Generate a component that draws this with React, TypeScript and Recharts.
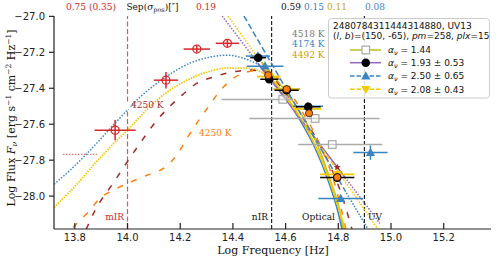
import React from 'react';
import { ComposedChart, Line, Scatter, XAxis, YAxis, ErrorBar, ReferenceLine } from 'recharts';

const xTicks = [13.8, 14.0, 14.2, 14.4, 14.6, 14.8, 15.0, 15.2];
const yTicks = [-28.0, -27.8, -27.6, -27.4, -27.2, -27.0];
const xDomain = [13.721, 15.3795];
const yDomain = [-28.183, -26.998];

// observed photometry
const redPoints = [
  { x: 13.953, y: -27.633, ex: 0.078, ey: 0.056 },
  { x: 14.146, y: -27.355, ex: 0.046, ey: 0.046 },
  { x: 14.263, y: -27.182, ex: 0.05, ey: 0.02 },
  { x: 14.379, y: -27.15, ex: 0.044, ey: 0.02 },
];
const grayPoints = [
  { x: 14.589, y: -27.462, ex: [0.232, 0.04] },
  { x: 14.712, y: -27.568, ex: [0.25, 0.245] },
  { x: 14.777, y: -27.713, ex: [0.129, 0.19] },
];
const bluePoints = [
  { x: 14.495, y: -27.221, ex: 0.046, ey: 0.01 },
  { x: 14.522, y: -27.277, ex: 0.07, ey: 0.01 },
  { x: 14.605, y: -27.405, ex: 0.05, ey: 0.01 },
  { x: 14.685, y: -27.5, ex: 0.057, ey: 0.01 },
  { x: 14.922, y: -27.758, ex: 0.065, ey: 0.04 },
  { x: 14.809, y: -28.014, ex: 0.085, ey: 0.02 },
];
const goldPoints = [
  { x: 14.536, y: -27.335, ex: 0.045 },
  { x: 14.604, y: -27.405, ex: 0.05 },
  { x: 14.686, y: -27.515, ex: 0.05 },
  { x: 14.796, y: -27.879, ex: 0.065 },
];
const blackPoints = [
  { x: 14.496, y: -27.23, ex: 0.03 },
  { x: 14.538, y: -27.35, ex: 0.034 },
  { x: 14.604, y: -27.411, ex: 0.046 },
  { x: 14.686, y: -27.503, ex: 0.047 },
  { x: 14.796, y: -27.897, ex: 0.065 },
];
const orangePoints = [
  { x: 14.534, y: -27.327 },
  { x: 14.604, y: -27.405 },
  { x: 14.689, y: -27.539 },
  { x: 14.796, y: -27.895 },
];
const brownPoints = [
  { x: 14.689, y: -27.53 },
  { x: 14.796, y: -27.838 },
];
const pinkLimit = [
  [13.755, -27.768],
  [13.884, -27.768],
];

// model curves [logNu, logF]
const blueBBDotted = [
  [13.721, -27.934], [13.782, -27.856], [13.858, -27.745], [13.953, -27.594], [14.047, -27.45],
  [14.15, -27.333], [14.237, -27.26], [14.313, -27.227], [14.378, -27.216], [14.438, -27.232], [14.495, -27.266],
];
const blueBBSolid = [
  [14.495, -27.266], [14.541, -27.344], [14.598, -27.45], [14.655, -27.578], [14.712, -27.734],
  [14.761, -27.912], [14.799, -28.09], [14.814, -28.185],
];
const goldBBDotted = [
  [13.721, -28.062], [13.801, -27.945], [13.877, -27.817], [13.934, -27.728], [14.01, -27.617],
  [14.078, -27.511], [14.15, -27.422], [14.226, -27.355], [14.302, -27.31], [14.378, -27.288],
  [14.454, -27.288], [14.51, -27.31],
];
const goldBBSolid = [
  [14.51, -27.31], [14.56, -27.372], [14.617, -27.477], [14.674, -27.611], [14.731, -27.778],
  [14.78, -27.968], [14.825, -28.185],
];
const oliveBB = [
  [14.51, -27.255], [14.579, -27.377], [14.655, -27.533], [14.723, -27.723], [14.776, -27.94],
  [14.807, -28.09], [14.818, -28.185],
];
const brownBB = [
  [13.843, -28.185], [13.877, -28.079], [13.945, -27.929], [14.029, -27.745], [14.112, -27.578],
  [14.207, -27.438], [14.264, -27.372], [14.325, -27.338], [14.397, -27.31], [14.465, -27.299],
  [14.522, -27.31], [14.598, -27.422], [14.674, -27.578], [14.75, -27.773], [14.807, -27.968], [14.852, -28.185],
];
const orangeBB = [
  [13.793, -28.174], [13.85, -28.09], [13.896, -28.012], [13.953, -27.962], [14.01, -27.923],
  [14.074, -27.884], [14.142, -27.84], [14.184, -27.778], [14.226, -27.678], [14.268, -27.583],
  [14.306, -27.505], [14.347, -27.422], [14.397, -27.349], [14.454, -27.31], [14.51, -27.299],
  [14.579, -27.355], [14.655, -27.511], [14.731, -27.717], [14.788, -27.94], [14.829, -28.185],
];
const purpleUp = [[14.359, -26.998], [14.495, -27.26]];
const purpleMid = [[14.495, -27.26], [14.825, -27.895]];
const purpleLow = [[14.825, -27.895], [14.958, -28.152]];
const goldUp = [[14.381, -26.998], [14.51, -27.26]];
const goldMid = [[14.51, -27.26], [14.807, -27.879]];
const goldLow = [[14.807, -27.879], [14.951, -28.185]];
const blueMid = [[14.442, -26.998], [14.825, -27.968]];
const blueLow = [[14.825, -27.968], [14.913, -28.185]];

const bandLines = [14.547, 14.899];

const C = {
  red: '#d62728', blue: '#3b84c4', gold: '#f5c800', goldText: '#c9a200', olive: '#bcbd22',
  purple: '#9467bd', brown: '#a52a2a', orange: '#ff7f0e', gray: '#aaaaaa', axis: '#222222',
};

const toPts = (a: number[][]) => a.map(([x, y]) => ({ x, y }));
const fmt = (v: number) => (v < 0 ? '\u2212' : '') + Math.abs(v).toFixed(1);

const W = 498;
const H = 261;

function curve(key: string, data: number[][], color: string, dash?: string, width = 1.5, type: any = 'linear') {
  return (
    <Line
      key={key}
      data={toPts(data)}
      dataKey="y"
      type={type}
      stroke={color}
      strokeWidth={width}
      strokeDasharray={dash}
      dot={false}
      activeDot={false}
      isAnimationActive={false}
      legendType="none"
    />
  );
}

const redShape = (p: any) => (
  <circle cx={p.cx} cy={p.cy} r={4} fill="none" stroke={C.red} strokeWidth={1.3} />
);
const blackShape = (p: any) => <circle cx={p.cx} cy={p.cy} r={4.3} fill="#000" />;
const orangeShape = (p: any) => (
  <circle cx={p.cx} cy={p.cy} r={3.6} fill={C.orange} stroke="#000" strokeWidth={0.7} />
);
const grayShape = (p: any) => (
  <rect x={p.cx - 3.8} y={p.cy - 3.8} width={7.6} height={7.6} fill="#fff" fillOpacity={0.4} stroke={C.gray} strokeWidth={1.2} />
);
const blueShape = (p: any) => (
  <polygon points={`${p.cx},${p.cy - 4.8} ${p.cx - 4.6},${p.cy + 3.4} ${p.cx + 4.6},${p.cy + 3.4}`} fill={C.blue} />
);
const goldShape = (p: any) => (
  <polygon points={`${p.cx},${p.cy + 4.8} ${p.cx - 4.6},${p.cy - 3.4} ${p.cx + 4.6},${p.cy - 3.4}`} fill={C.gold} />
);
const brownShape = (p: any) => (
  <polygon
    points={`${p.cx},${p.cy - 3.5} ${p.cx + 1},${p.cy - 1} ${p.cx + 3.5},${p.cy - 1} ${p.cx + 1.5},${p.cy + 0.8} ${p.cx + 2.3},${p.cy + 3.3} ${p.cx},${p.cy + 1.8} ${p.cx - 2.3},${p.cy + 3.3} ${p.cx - 1.5},${p.cy + 0.8} ${p.cx - 3.5},${p.cy - 1} ${p.cx - 1},${p.cy - 1}`}
    fill={C.brown}
  />
);

const serif = 'DejaVu Serif';
const sans = 'DejaVu Sans';

export default function App() {
  const legendRows = [
    { y: 50, color: C.olive, dash: undefined, marker: 'sq', text: '1.44' },
    { y: 62.7, color: C.purple, dash: undefined, marker: 'circ', text: '1.93 \u00b1 0.53' },
    { y: 76, color: C.blue, dash: '4.5 2', marker: 'up', text: '2.50 \u00b1 0.65' },
    { y: 89.3, color: C.gold, dash: '4.5 2', marker: 'down', text: '2.08 \u00b1 0.43' },
  ];
  return (
    <div style={{ position: 'absolute', left: 0, top: 0, width: W, height: H, background: '#fff' }}>
      <ComposedChart width={W} height={H} margin={{ top: 16, right: 7, bottom: 0, left: 0 }}>
        <XAxis
          dataKey="x"
          type="number"
          domain={xDomain}
          allowDataOverflow
          ticks={xTicks}
          interval={0}
          tickFormatter={fmt}
          tickSize={-6}
          tickMargin={11}
          height={32}
          stroke={C.axis}
          strokeWidth={1.2}
          tick={{ fill: C.axis, fontSize: 10, fontFamily: sans }}
        />
        <XAxis
          xAxisId="top"
          orientation="top"
          dataKey="x"
          type="number"
          domain={xDomain}
          allowDataOverflow
          ticks={xTicks}
          interval={0}
          tick={false}
          tickSize={-6}
          height={0}
          stroke={C.axis}
          strokeWidth={1.2}
        />
        <YAxis
          dataKey="y"
          type="number"
          domain={yDomain}
          allowDataOverflow
          ticks={yTicks}
          interval={0}
          tickFormatter={fmt}
          tickSize={5}
          tickMargin={4}
          width={54}
          stroke={C.axis}
          strokeWidth={1.2}
          tick={{ fill: C.axis, fontSize: 10, fontFamily: sans }}
        />
        <YAxis
          yAxisId="right"
          orientation="right"
          dataKey="y"
          type="number"
          domain={yDomain}
          allowDataOverflow
          ticks={yTicks}
          interval={0}
          tick={false}
          tickSize={-6}
          width={0}
          stroke={C.axis}
          strokeWidth={1.2}
        />
        <Line
          xAxisId="top"
          yAxisId="right"
          data={[{ x: 14.0, y: -27.5 }]}
          dataKey="y"
          stroke="none"
          dot={false}
          activeDot={false}
          isAnimationActive={false}
        />
        <ReferenceLine x={14.0} stroke="#e05555" strokeWidth={1.2} strokeDasharray="5 2.5" />
        {bandLines.map((b) => (
          <ReferenceLine key={b} x={b} stroke="#111" strokeWidth={1.1} strokeDasharray="4 2" />
        ))}

        {curve('pink', pinkLimit, '#e57373', '1.5 1.5', 1.2)}
        {curve('blueBBd', blueBBDotted, C.blue, '1.5 1.6', 1.5, 'monotone')}
        {curve('goldBBd', goldBBDotted, C.gold, '1.5 1.2', 1.8, 'monotone')}
        {curve('brownBB', brownBB, C.brown, '6 9', 1.5, 'monotone')}
        {curve('orangeBB', orangeBB, C.orange, '6 9', 1.5, 'monotone')}
        {curve('oliveBB', oliveBB, C.olive, undefined, 1.5, 'monotone')}
        {curve('blueBBs', blueBBSolid, C.blue, undefined, 1.5, 'monotone')}
        {curve('goldBBs', goldBBSolid, C.gold, undefined, 1.8, 'monotone')}
        {curve('pu', purpleUp, C.purple, '1.5 1.5', 1.5)}
        {curve('pm', purpleMid, C.purple, undefined, 1.5)}
        {curve('pl', purpleLow, C.purple, '1.5 1.5', 1.5)}
        {curve('gu', goldUp, C.gold, '1.5 1.5', 1.5)}
        {curve('gm', goldMid, C.gold, '5 2.5', 1.5)}
        {curve('gl', goldLow, C.gold, '1.5 1.5', 1.5)}
        {curve('bm', blueMid, C.blue, '6 3', 1.5)}
        {curve('bl', blueLow, C.blue, '1.5 1.5', 1.5)}

        <Scatter data={grayPoints} dataKey="y" shape={grayShape} isAnimationActive={false}>
          <ErrorBar dataKey="ex" direction="x" width={0} stroke={C.gray} strokeWidth={1.5} />
        </Scatter>
        <Scatter data={bluePoints} dataKey="y" shape={blueShape} isAnimationActive={false}>
          <ErrorBar dataKey="ex" direction="x" width={0} stroke={C.blue} strokeWidth={1.5} />
          <ErrorBar dataKey="ey" direction="y" width={0} stroke={C.blue} strokeWidth={1.5} />
        </Scatter>
        <Scatter data={goldPoints} dataKey="y" shape={goldShape} isAnimationActive={false}>
          <ErrorBar dataKey="ex" direction="x" width={0} stroke={C.gold} strokeWidth={1.8} />
        </Scatter>
        <Scatter data={blackPoints} dataKey="y" shape={blackShape} isAnimationActive={false}>
          <ErrorBar dataKey="ex" direction="x" width={0} stroke="#000" strokeWidth={1.5} />
        </Scatter>
        <Scatter data={brownPoints} dataKey="y" shape={brownShape} isAnimationActive={false} />
        <Scatter data={orangePoints} dataKey="y" shape={orangeShape} isAnimationActive={false} />
        <Scatter data={redPoints} dataKey="y" shape={redShape} isAnimationActive={false}>
          <ErrorBar dataKey="ex" direction="x" width={0} stroke={C.red} strokeWidth={1.5} />
          <ErrorBar dataKey="ey" direction="y" width={0} stroke={C.red} strokeWidth={1.5} />
        </Scatter>
      </ComposedChart>

      <svg width={W} height={H} style={{ position: 'absolute', left: 0, top: 0, pointerEvents: 'none' }}>
        {/* top separations */}
        <g fontFamily={serif} fontSize={9} textAnchor="middle">
          <text x={91} y={10} fill={C.red}>0.75 (0.35)</text>
          <text x={152.5} y={10} fill="#111">
            Sep(<tspan fontStyle="italic">σ</tspan>
            <tspan fontSize={6.5} dy={2}>pos</tspan>
            <tspan dy={-2}>)[″]</tspan>
          </text>
          <text x={206} y={10} fill={C.red}>0.19</text>
          <text x={291} y={10} fill="#111">0.59</text>
          <text x={314} y={10} fill={C.blue}>0.15</text>
          <text x={337} y={10} fill={C.goldText}>0.11</text>
          <text x={375} y={10} fill={C.blue}>0.08</text>
        </g>

        {/* region labels */}
        <g fontFamily={serif} fontSize={9}>
          <text x={124} y={220} textAnchor="end" fill={C.red}>mIR</text>
          <text x={268} y={220} textAnchor="end" fill="#111">nIR</text>
          <text x={318.5} y={220} textAnchor="middle" fill="#111">Optical</text>
          <text x={368} y={220} fill="#111">UV</text>
          <text x={131} y={108} fill={C.brown}>4250 K</text>
          <text x={199} y={136} fill={C.orange}>4250 K</text>
          <text x={292} y={36.5} fill="#777">4518 K</text>
          <text x={292} y={47} fill={C.blue}>4174 K</text>
          <text x={292} y={57.5} fill={C.goldText}>4492 K</text>
        </g>

        {/* axis labels */}
        <text x={273} y={254} textAnchor="middle" fontFamily={serif} fontSize={11} fill="#111">
          Log Frequency [Hz]
        </text>
        <text transform="translate(15,118) rotate(-90)" textAnchor="middle" fontFamily={serif} fontSize={11} fill="#111">
          Log Flux <tspan fontStyle="italic">F</tspan>
          <tspan fontSize={8} dy={2} fontStyle="italic">ν</tspan>
          <tspan dy={-2}> [erg s</tspan>
          <tspan fontSize={7.5} dy={-4}>−1</tspan>
          <tspan dy={4}> cm</tspan>
          <tspan fontSize={7.5} dy={-4}>−2</tspan>
          <tspan dy={4}> Hz</tspan>
          <tspan fontSize={7.5} dy={-4}>−1</tspan>
          <tspan dy={4}>]</tspan>
        </text>

        {/* legend */}
        <rect x={328.5} y={18.5} width={161} height={79.5} rx={3} fill="#fff" fillOpacity={0.85} stroke="#cccccc" strokeWidth={1} />
        <g fontFamily={sans} fontSize={9} fill="#111">
          <text x={333} y={28.5}>2480784311444314880, UV13</text>
          <text x={333} y={39}>
            (<tspan fontStyle="italic">l</tspan>, <tspan fontStyle="italic">b</tspan>)=(150, -65),{' '}
            <tspan fontStyle="italic">pm</tspan>=258, <tspan fontStyle="italic">plx</tspan>=15
          </text>
        </g>
        {legendRows.map((r) => (
          <g key={r.text}>
            <line x1={350} x2={381} y1={r.y} y2={r.y} stroke={r.color} strokeWidth={1.5} strokeDasharray={r.dash} />
            {r.marker === 'sq' && (
              <rect x={362} y={r.y - 3.8} width={7.6} height={7.6} fill="#fff" stroke={C.gray} strokeWidth={1.2} />
            )}
            {r.marker === 'circ' && <circle cx={365.8} cy={r.y} r={4.3} fill="#000" />}
            {r.marker === 'up' && (
              <polygon points={`365.8,${r.y - 4.8} 361.2,${r.y + 3.4} 370.4,${r.y + 3.4}`} fill={C.blue} />
            )}
            {r.marker === 'down' && (
              <polygon points={`365.8,${r.y + 4.8} 361.2,${r.y - 3.4} 370.4,${r.y - 3.4}`} fill={C.gold} />
            )}
            <text x={388} y={r.y + 3.3} fontFamily={sans} fontSize={9} fill="#111">
              <tspan fontStyle="italic">α</tspan>
              <tspan fontSize={6.5} dy={2} fontStyle="italic">ν</tspan>
              <tspan dy={-2}> =  {r.text}</tspan>
            </text>
          </g>
        ))}
      </svg>
    </div>
  );
}
